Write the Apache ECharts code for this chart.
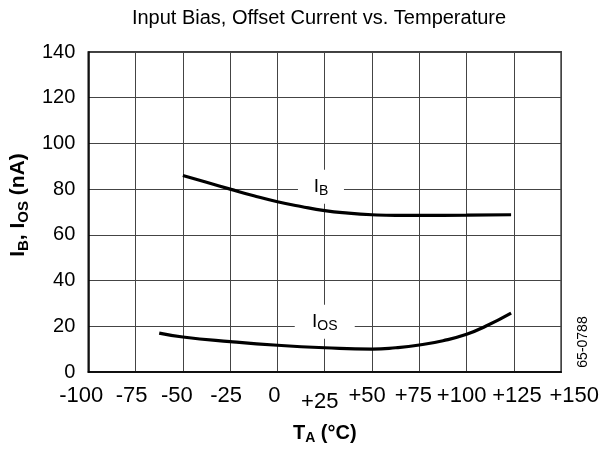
<!DOCTYPE html>
<html><head><meta charset="utf-8">
<script src="https://cdn.jsdelivr.net/npm/echarts@6/dist/echarts.min.js"></script>
<style>html,body{margin:0;padding:0;background:#fff}#c{width:602px;height:450px}</style>
</head><body><div id="c"></div>
<script>
const xTicks = [-100,-75,-50,-25,0,25,50,75,100,125,150];
const yTicks = [0,20,40,60,80,100,120,140];
const ibTemps = [-50,-37.5,-25,-12.5,0,12.5,25,37.5,50,62.5,75,100,123.5];
const ibValues = [86,83,80,77.1,74.5,72.4,70.6,69.5,68.8,68.5,68.5,68.6,68.8];
const iosTemps = [-62.5,-50,-25,0,25,50,62.5,75,87.5,100,110,123.5];
const iosValues = [17,15.3,13.3,11.7,10.6,10,10.6,11.8,13.7,16.5,20,25.8];
const ibLabelAt = [23,81];
const iosLabelAt = [25,22];

const pairs = (xs, ys) => xs.map((x,i)=>[x,ys[i]]);
const font = 'Liberation Sans, Arial, sans-serif';
// horizontal nudges of tick labels as placed in the original figure (px, + = right)
const tickNudge = {'-100':-7,'-75':-4,'-50':-6,'-25':-4,'0':-3,'25':-5,'50':-5,'75':-6,'100':-5,'125':3,'150':13};
const tickRich = {};
xTicks.forEach((v,i)=>{
  const s = tickNudge[String(v)] || 0;
  tickRich['k'+i] = {fontSize:22,color:'#000',fontFamily:font,
    padding:[v===25?6:0, s<0?-2*s:0, 0, s>0?2*s:0]};
});
const chart = echarts.init(document.getElementById('c'));
const labelPoint = (coord, name, sub, w) => ({
  symbol: 'rect', symbolSize: [w, 34], coord: coord,
  itemStyle: {color:'#fff'},
  label: {show:true, position:'inside', formatter: '{a|'+name+'}{b|'+sub+'}',
    rich:{a:{fontSize:19,color:'#000',fontFamily:font}, b:{fontSize:14,color:'#000',fontFamily:font,padding:[9,0,0,0]}}}
});
chart.setOption({
  animation:false,
  title:{text:'Input Bias, Offset Current vs. Temperature', left:314, textAlign:'center', top:3,
    textStyle:{fontSize:20,fontWeight:'normal',color:'#000',fontFamily:font}},
  grid:{left:87, right:38, top:52, bottom:78, containLabel:false, show:true, borderColor:'#000', borderWidth:1.5},
  xAxis:{type:'value', min:-100, max:150, interval:25,
    axisLine:{show:true,onZero:false,lineStyle:{color:'#000',width:1.5}}, axisTick:{show:false},
    splitLine:{show:true,lineStyle:{color:'#444',width:1}},
    axisLabel:{fontSize:22,color:'#000',fontFamily:font,margin:13,
      formatter:(v)=>{ const i = xTicks.indexOf(v); return '{k'+i+'|'+(v>0?'+'+v:''+v)+'}'; },
      rich:tickRich},
    name:'{t|T}{s|A}{t| (°C)}', nameLocation:'middle', nameGap:50,
    nameTextStyle:{rich:{t:{fontSize:20,fontWeight:'bold',color:'#000',fontFamily:font},
      s:{fontSize:14,fontWeight:'bold',color:'#000',fontFamily:font,padding:[9,0,0,0]}}}},
  yAxis:{type:'value', min:0, max:140, interval:20,
    axisLine:{show:true,onZero:false,lineStyle:{color:'#000',width:1.5}}, axisTick:{show:false},
    splitLine:{show:true,lineStyle:{color:'#444',width:1}},
    axisLabel:{fontSize:20,color:'#000',fontFamily:font,margin:13},
    name:'{t|I}{s|B}{t|, I}{s|OS}{t| (nA)}', nameLocation:'middle', nameGap:50,
    nameTextStyle:{padding:[0,0,0,14], rich:{t:{fontSize:21,fontWeight:'bold',color:'#000',fontFamily:font},
      s:{fontSize:15,fontWeight:'bold',color:'#000',fontFamily:font,padding:[10,0,0,0]}}}},
  graphic:[{type:'text', x:583, y:342, rotation:Math.PI/2,
    style:{text:'65-0788', fontSize:14, fill:'#000', fontFamily:font, align:'center', verticalAlign:'middle'}}],
  series:[
    {type:'line', data:pairs(ibTemps,ibValues), smooth:true, showSymbol:false,
      lineStyle:{color:'#000',width:3.2}, z:5,
      markPoint:{data:[labelPoint(ibLabelAt,'I','B',46)], animation:false}},
    {type:'line', data:pairs(iosTemps,iosValues), smooth:true, showSymbol:false,
      lineStyle:{color:'#000',width:3.2}, z:5,
      markPoint:{data:[labelPoint(iosLabelAt,'I','OS',60)], animation:false}}
  ]
});
</script></body></html>
